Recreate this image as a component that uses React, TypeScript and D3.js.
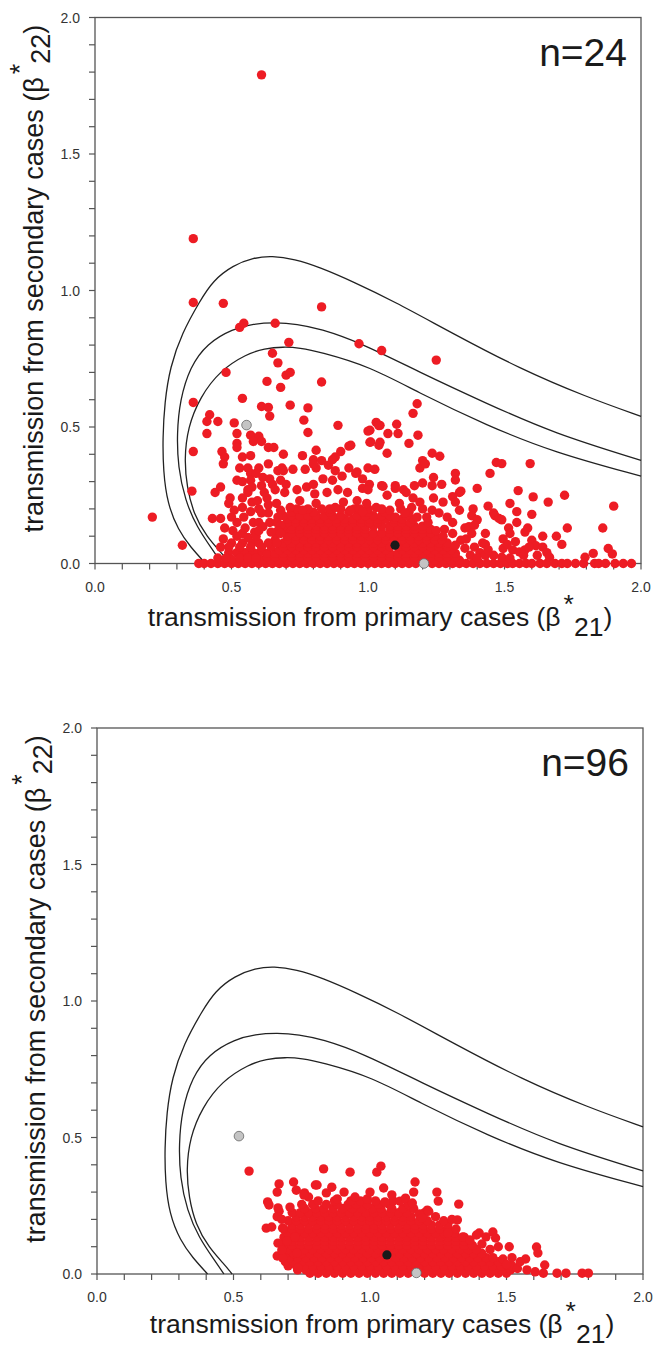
import * as d3 from 'd3';

// axis ticks (major labelled, minor every 0.1)
const majorTicks = [0, 0.5, 1.0, 1.5, 2.0];

// threshold contours (beta21, beta22)
const curveOuter: [number, number][] = [
  [0.405, 0], [0.35, 0.06], [0.305, 0.122], [0.265, 0.22], [0.25, 0.34], [0.248, 0.46],
  [0.255, 0.59], [0.275, 0.72], [0.318, 0.843], [0.385, 0.963], [0.432, 1.036], [0.505, 1.092],
  [0.58, 1.12], [0.648, 1.127], [0.73, 1.115], [0.824, 1.085], [0.95, 1.03], [1.09, 0.963],
  [1.31, 0.843], [1.557, 0.713], [1.8, 0.61], [2.0, 0.539],
];
const curveMiddle: [number, number][] = [
  [0.465, 0], [0.432, 0.048], [0.373, 0.133], [0.33, 0.232], [0.304, 0.353], [0.3, 0.476],
  [0.311, 0.598], [0.348, 0.72], [0.41, 0.806], [0.505, 0.86], [0.58, 0.878], [0.66, 0.883],
  [0.74, 0.877], [0.824, 0.86], [0.97, 0.81], [1.19, 0.7], [1.435, 0.586], [1.68, 0.477], [2.0, 0.378],
];
const curveInner: [number, number][] = [
  [0.495, 0], [0.465, 0.037], [0.41, 0.096], [0.36, 0.184], [0.337, 0.28], [0.327, 0.38],
  [0.34, 0.5], [0.385, 0.61], [0.458, 0.707], [0.556, 0.768], [0.62, 0.787], [0.69, 0.794],
  [0.75, 0.79], [0.824, 0.775], [1.007, 0.722], [1.19, 0.623], [1.435, 0.506], [1.68, 0.407], [2.0, 0.32],
];

// n=24 : scattered estimates
const topRed: [number, number][] = [
  [0.61, 1.79], [0.36, 1.19], [0.36, 0.956], [0.47, 0.953], [0.83, 0.94], [0.53, 0.865], [0.545, 0.88],
  [0.66, 0.88], [0.71, 0.81], [0.967, 0.805], [1.05, 0.78], [1.25, 0.745], [0.65, 0.77], [0.67, 0.735],
  [0.48, 0.7], [0.7, 0.69], [0.715, 0.7], [0.63, 0.667], [0.68, 0.645], [0.83, 0.665], [0.54, 0.605],
  [0.36, 0.59], [0.61, 0.575], [0.635, 0.572], [0.715, 0.58], [0.78, 0.57], [0.64, 0.54], [0.42, 0.545],
  [0.41, 0.52], [0.45, 0.52], [0.51, 0.515], [0.41, 0.476], [0.52, 0.476], [0.765, 0.525], [0.78, 0.48],
  [0.89, 0.506], [1.18, 0.585], [1.165, 0.55], [1.007, 0.488], [1.03, 0.517], [1.044, 0.506], [1.073, 0.476],
  [1.105, 0.51], [1.11, 0.476], [1.007, 0.444], [1.044, 0.444], [0.937, 0.433], [1.07, 0.404], [1.183, 0.47],
  [1.15, 0.44], [1.47, 0.37], [1.49, 0.366], [1.594, 0.366], [1.447, 0.33], [1.72, 0.25], [1.9, 0.21],
  [1.86, 0.13], [1.73, 0.13], [1.55, 0.267], [1.605, 0.244], [1.66, 0.225], [1.235, 0.404], [1.263, 0.393],
  [1.2, 0.377], [1.19, 0.35], [1.21, 0.365], [1.32, 0.33], [1.32, 0.306], [1.335, 0.26], [1.24, 0.315],
  [1.27, 0.29], [1.235, 0.285], [1.1, 0.285], [1.055, 0.283], [1.13, 0.27], [1.17, 0.285], [1.2, 0.295],
  [1.34, 0.265], [1.31, 0.245], [1.32, 0.225], [1.24, 0.24], [1.275, 0.225], [1.235, 0.195],
  [0.36, 0.41], [0.465, 0.41], [0.475, 0.39], [0.47, 0.365], [0.355, 0.265], [0.44, 0.26], [0.46, 0.28],
  [0.21, 0.17], [0.32, 0.067], [0.43, 0.165], [0.46, 0.165], [0.45, 0.02], [0.46, 0.06],
  [0.57, 0.47], [0.6, 0.466], [0.58, 0.447], [0.61, 0.447], [0.52, 0.44], [0.52, 0.425], [0.635, 0.425],
  [0.655, 0.425], [0.69, 0.4], [0.54, 0.39], [0.57, 0.395], [0.53, 0.35], [0.56, 0.35], [0.57, 0.33],
  [0.6, 0.35], [0.635, 0.365], [0.67, 0.34], [0.685, 0.35], [0.52, 0.305], [0.54, 0.3], [0.57, 0.305],
  [0.615, 0.315], [0.61, 0.285], [0.65, 0.29], [0.68, 0.305], [0.575, 0.28], [0.56, 0.27], [0.495, 0.24],
  [0.49, 0.22], [0.54, 0.24], [0.56, 0.26], [0.575, 0.225], [0.595, 0.23], [0.54, 0.205], [0.51, 0.195],
  [0.63, 0.24], [0.635, 0.215], [0.665, 0.22], [0.68, 0.195], [0.635, 0.185], [0.67, 0.17], [0.61, 0.185],
  [0.545, 0.17], [0.475, 0.13], [0.505, 0.12], [0.54, 0.11], [0.58, 0.15], [0.6, 0.15], [0.615, 0.135],
  [0.585, 0.115], [0.64, 0.15], [0.665, 0.15], [0.68, 0.14], [0.67, 0.12], [0.645, 0.115], [0.68, 0.11],
  [0.5, 0.075], [0.54, 0.075], [0.575, 0.075], [0.6, 0.075], [0.61, 0.06], [0.635, 0.075], [0.665, 0.075],
  [0.49, 0.04], [0.52, 0.04], [0.55, 0.04], [0.58, 0.04],
  [0.47, 0.09], [0.52, 0.1], [0.56, 0.095], [0.59, 0.1], [0.5, 0.015], [0.53, 0.02], [0.56, 0.02],
  [0.59, 0.02], [0.48, 0.02], [0.55, 0.13], [0.52, 0.15], [0.6, 0.12], [0.57, 0.06], [0.53, 0.06],
  [0.49, 0.06], [0.5, 0.17], [0.6, 0.2], [0.57, 0.19], [0.62, 0.26], [0.66, 0.27], [0.64, 0.31], [0.59, 0.33],
  [0.76, 0.395], [0.81, 0.415], [0.9, 0.41], [0.88, 0.39], [0.87, 0.38], [0.8, 0.38], [0.81, 0.35],
  [0.77, 0.345], [0.725, 0.345], [0.69, 0.34], [0.8, 0.365], [0.83, 0.377], [1.04, 0.505], [1.0, 0.485],
  [1.01, 0.445], [1.04, 0.433], [0.93, 0.43], [0.93, 0.35], [1.0, 0.35], [1.025, 0.345], [0.955, 0.33],
  [0.98, 0.31], [0.855, 0.36], [0.88, 0.34], [0.835, 0.31], [0.87, 0.305], [0.905, 0.32], [0.96, 0.335],
  [1.005, 0.29], [0.98, 0.275], [1.0, 0.27], [1.05, 0.285], [1.07, 0.25], [1.1, 0.275], [1.14, 0.26],
  [1.165, 0.24], [1.19, 0.225], [1.16, 0.205], [1.2, 0.2], [1.18, 0.17], [1.215, 0.17], [1.26, 0.185],
  [1.29, 0.17], [1.31, 0.15], [1.335, 0.195], [1.355, 0.13], [1.25, 0.12], [1.275, 0.1], [1.31, 0.11],
  [1.34, 0.085], [1.32, 0.067], [0.7, 0.29], [0.695, 0.26], [0.74, 0.27], [0.775, 0.28], [0.8, 0.29],
  [0.805, 0.255], [0.75, 0.23], [0.715, 0.205], [0.76, 0.195], [0.81, 0.22], [0.85, 0.26], [0.89, 0.27],
  [0.925, 0.26], [0.91, 0.225], [0.96, 0.23], [0.995, 0.22], [0.88, 0.205], [0.935, 0.195], [0.98, 0.19],
  [1.03, 0.205], [1.08, 0.195], [1.115, 0.22], [1.135, 0.185], [1.1, 0.17],
  [1.4, 0.275], [1.52, 0.22], [1.44, 0.21], [1.46, 0.185], [1.465, 0.175], [1.385, 0.2], [1.38, 0.175],
  [1.4, 0.16], [1.48, 0.165], [1.49, 0.16], [1.545, 0.19], [1.545, 0.15], [1.6, 0.18], [1.37, 0.135],
  [1.39, 0.14], [1.43, 0.11], [1.515, 0.13], [1.52, 0.11], [1.585, 0.13], [1.575, 0.115], [1.64, 0.1],
  [1.69, 0.1], [1.71, 0.07], [1.6, 0.085], [1.615, 0.065], [1.42, 0.075], [1.43, 0.07], [1.495, 0.09],
  [1.495, 0.055], [1.88, 0.055], [1.895, 0.035], [1.825, 0.037], [1.795, 0.023], [1.53, 0.05],
  [1.555, 0.042], [1.575, 0.05], [1.64, 0.06], [1.655, 0.04], [1.665, 0.023], [1.355, 0.056],
  [1.375, 0.03], [1.46, 0.03], [1.49, 0.023], [1.36, 0.09], [1.38, 0.11], [1.39, 0.06], [1.41, 0.04],
  [1.4, 0.02], [1.43, 0.03], [1.44, 0.05], [1.51, 0.07], [1.54, 0.08], [1.57, 0.03], [1.59, 0.06],
  [1.62, 0.03], [1.52, 0.02],
];

// n=24 : packed part of the cloud, one row per beta22 level
const topCoreRows: [number, number[]][] = [
  [0, [0.38, 0.4, 0.425, 0.45, 0.475, 0.5, 0.525, 0.55, 0.575, 0.6, 0.625, 0.65, 0.675, 0.7, 0.725, 0.75,
    0.775, 0.8, 0.825, 0.85, 0.875, 0.9, 0.925, 0.95, 0.975, 1.0, 1.025, 1.05, 1.075, 1.1, 1.125, 1.15,
    1.175, 1.235, 1.26, 1.285, 1.31, 1.335, 1.36, 1.385, 1.41, 1.435, 1.46, 1.485, 1.51, 1.53, 1.555,
    1.58, 1.6, 1.63, 1.655, 1.685, 1.71, 1.73, 1.76, 1.79, 1.83, 1.845, 1.87, 1.905, 1.935, 1.965]],
  [0.012, [0.615, 0.645, 0.675, 0.705, 0.735, 0.765, 0.795, 0.825, 0.855, 0.885, 0.915, 0.945, 0.975,
    1.005, 1.035, 1.065, 1.095, 1.125, 1.155, 1.185, 1.215, 1.245, 1.275, 1.305, 1.335]],
  [0.025, [0.63, 0.66, 0.69, 0.72, 0.75, 0.78, 0.81, 0.84, 0.87, 0.9, 0.93, 0.96, 0.99, 1.02, 1.05, 1.08,
    1.11, 1.14, 1.17, 1.2, 1.23, 1.26, 1.29, 1.32]],
  [0.037, [0.6, 0.63, 0.66, 0.69, 0.72, 0.75, 0.78, 0.81, 0.84, 0.87, 0.9, 0.93, 0.96, 0.99, 1.02, 1.05,
    1.08, 1.11, 1.14, 1.17, 1.2, 1.23, 1.26, 1.29, 1.32]],
  [0.05, [0.675, 0.705, 0.735, 0.765, 0.795, 0.825, 0.855, 0.885, 0.915, 0.945, 0.975, 1.005, 1.035,
    1.065, 1.125, 1.155, 1.185, 1.215, 1.245, 1.275, 1.305]],
  [0.062, [0.645, 0.69, 0.72, 0.75, 0.78, 0.81, 0.84, 0.87, 0.9, 0.93, 0.96, 0.99, 1.02, 1.05, 1.08,
    1.11, 1.14, 1.17, 1.2, 1.23, 1.26, 1.29]],
  [0.075, [0.69, 0.72, 0.75, 0.78, 0.81, 0.84, 0.87, 0.9, 0.93, 0.96, 0.99, 1.02, 1.05, 1.14, 1.17,
    1.2, 1.23, 1.26, 1.29]],
  [0.087, [0.66, 0.705, 0.735, 0.765, 0.795, 0.825, 0.855, 0.885, 0.915, 0.945, 0.975, 1.005, 1.035,
    1.065, 1.095, 1.125, 1.155, 1.185, 1.215, 1.245, 1.27]],
  [0.1, [0.705, 0.735, 0.765, 0.795, 0.825, 0.855, 0.885, 0.915, 0.945, 0.975, 1.005, 1.035, 1.065,
    1.095, 1.125, 1.155, 1.185, 1.215, 1.245]],
  [0.112, [0.66, 0.72, 0.75, 0.78, 0.81, 0.84, 0.87, 0.9, 0.93, 0.96, 0.99, 1.02, 1.05, 1.08, 1.11,
    1.14, 1.17, 1.2, 1.23]],
  [0.125, [0.69, 0.72, 0.75, 0.78, 0.81, 0.84, 0.87, 0.9, 0.93, 0.96, 0.99, 1.08, 1.11, 1.14, 1.17,
    1.2, 1.23, 1.28]],
  [0.137, [0.69, 0.72, 0.75, 0.78, 0.81, 0.84, 0.87, 0.9, 0.93, 0.96, 0.99, 1.02, 1.05, 1.08, 1.11,
    1.14, 1.17, 1.2]],
  [0.15, [0.705, 0.735, 0.765, 0.795, 0.825, 0.855, 0.885, 0.915, 0.945, 0.975, 1.005, 1.035, 1.095,
    1.125, 1.155, 1.22]],
  [0.162, [0.705, 0.735, 0.765, 0.795, 0.825, 0.855, 0.885, 0.915, 0.945, 0.975, 1.005, 1.035, 1.065,
    1.095, 1.125, 1.165]],
  [0.175, [0.69, 0.72, 0.75, 0.78, 0.81, 0.84, 0.87, 0.9, 0.96, 0.99, 1.02, 1.05, 1.08, 1.14]],
  [0.188, [0.72, 0.8, 0.86, 0.93, 1.0, 1.06, 1.15]],
  [0.2, [0.74, 0.78, 0.83, 0.86, 0.9, 0.95, 0.97, 1.0, 1.05, 1.12]],
];
const topBlack: [number, number][] = [[1.099, 0.067]];
const topGrey: [number, number][] = [[0.555, 0.507], [1.205, 0]];

// n=96 : scattered estimates
const bottomRed: [number, number][] = [
  [0.557, 0.377], [0.83, 0.385], [0.927, 0.373], [1.025, 0.373], [1.04, 0.395], [1.165, 0.337],
  [0.667, 0.33], [0.72, 0.337], [0.66, 0.3], [0.73, 0.307], [0.8, 0.326], [0.86, 0.318], [0.84, 0.297],
  [1.05, 0.315], [1.245, 0.3], [1.25, 0.267], [1.325, 0.256], [0.625, 0.264], [0.63, 0.253],
  [0.76, 0.297], [0.775, 0.282], [0.905, 0.3], [0.945, 0.282], [0.99, 0.275], [1.11, 0.267],
  [1.13, 0.278], [1.155, 0.26], [1.055, 0.264], [0.667, 0.23], [0.66, 0.21], [0.62, 0.168],
  [0.64, 0.172], [1.21, 0.234], [1.215, 0.23], [1.18, 0.22], [1.19, 0.205], [1.3, 0.2], [1.32, 0.198],
  [1.285, 0.15], [1.34, 0.136], [1.366, 0.125], [1.39, 0.143], [0.663, 0.113], [0.66, 0.066],
  [0.68, 0.059], [0.736, 0.022], [0.663, 0.242], [0.707, 0.245], [0.677, 0.2], [0.68, 0.168],
  [0.696, 0.121], [0.677, 0.088], [0.725, 0.136], [0.733, 0.077], [0.806, 0.326], [0.758, 0.289],
  [1.4, 0.15], [1.425, 0.136], [1.45, 0.154], [1.46, 0.132], [1.51, 0.1], [1.487, 0.055], [1.61, 0.099],
  [1.615, 0.077], [1.57, 0.055], [1.64, 0.033], [1.54, 0.02], [1.575, 0.015], [1.605, 0.008],
  [1.47, 0.1], [1.44, 0.09], [1.52, 0.06], [1.5, 0.035], [1.55, 0.045], [1.45, 0.06], [1.41, 0.11],
  [0.88, 0.275], [1.0, 0.3], [1.16, 0.3], [1.08, 0.29],
];

// n=96 : packed core of the cloud
const bottomCoreRows: [number, number[]][] = [
  [0.003, [0.78, 0.81, 0.84, 0.87, 0.9, 0.93, 0.96, 0.99, 1.02, 1.05, 1.08, 1.11, 1.14, 1.2, 1.23, 1.26,
    1.29, 1.32, 1.35, 1.38, 1.41, 1.44, 1.47, 1.5, 1.635, 1.685, 1.718, 1.777, 1.8]],
  [0.015, [0.735, 0.765, 0.795, 0.825, 0.855, 0.885, 0.915, 0.945, 0.975, 1.005, 1.035, 1.065, 1.095,
    1.125, 1.155, 1.185, 1.215, 1.245, 1.275, 1.305, 1.335, 1.365, 1.395, 1.425, 1.455, 1.485, 1.515]],
  [0.03, [0.7, 0.73, 0.76, 0.79, 0.82, 0.85, 0.88, 0.91, 0.94, 0.97, 1.0, 1.03, 1.06, 1.09, 1.12, 1.15,
    1.18, 1.21, 1.24, 1.27, 1.3, 1.33, 1.36, 1.39, 1.42, 1.45, 1.48, 1.52]],
  [0.045, [0.69, 0.72, 0.75, 0.78, 0.81, 0.84, 0.87, 0.9, 0.93, 0.96, 0.99, 1.02, 1.05, 1.08, 1.11,
    1.14, 1.17, 1.2, 1.23, 1.26, 1.29, 1.32, 1.35, 1.38, 1.41, 1.44, 1.47]],
  [0.06, [0.705, 0.735, 0.765, 0.795, 0.825, 0.855, 0.885, 0.915, 0.945, 0.975, 1.005, 1.035, 1.065,
    1.095, 1.125, 1.155, 1.185, 1.215, 1.245, 1.275, 1.305, 1.335, 1.365, 1.395, 1.425]],
  [0.075, [0.69, 0.72, 0.75, 0.78, 0.81, 0.84, 0.87, 0.9, 0.93, 0.96, 0.99, 1.02, 1.05, 1.08, 1.11,
    1.14, 1.17, 1.2, 1.23, 1.26, 1.29, 1.32, 1.35, 1.38, 1.41]],
  [0.09, [0.7, 0.73, 0.76, 0.79, 0.82, 0.85, 0.88, 0.91, 0.94, 0.97, 1.0, 1.03, 1.06, 1.09, 1.12, 1.15,
    1.18, 1.21, 1.24, 1.27, 1.3, 1.33, 1.36, 1.39]],
  [0.105, [0.685, 0.715, 0.745, 0.775, 0.805, 0.835, 0.865, 0.895, 0.925, 0.955, 0.985, 1.015, 1.045,
    1.075, 1.105, 1.135, 1.165, 1.195, 1.225, 1.255, 1.285, 1.315, 1.345, 1.375]],
  [0.12, [0.715, 0.745, 0.775, 0.805, 0.835, 0.865, 0.895, 0.925, 0.955, 0.985, 1.015, 1.045, 1.075,
    1.105, 1.135, 1.165, 1.195, 1.225, 1.255, 1.285, 1.315, 1.345]],
  [0.135, [0.685, 0.715, 0.745, 0.775, 0.805, 0.835, 0.865, 0.895, 0.925, 0.955, 0.985, 1.015, 1.045,
    1.075, 1.105, 1.135, 1.165, 1.195, 1.225, 1.255, 1.285, 1.315, 1.345]],
  [0.15, [0.7, 0.73, 0.76, 0.79, 0.82, 0.85, 0.88, 0.91, 0.94, 0.97, 1.0, 1.03, 1.06, 1.09, 1.12, 1.15,
    1.18, 1.21, 1.24, 1.27, 1.31]],
  [0.165, [0.685, 0.715, 0.745, 0.775, 0.805, 0.835, 0.865, 0.895, 0.925, 0.955, 0.985, 1.015, 1.045,
    1.075, 1.105, 1.135, 1.165, 1.195, 1.225, 1.255, 1.285, 1.315]],
  [0.18, [0.715, 0.745, 0.775, 0.805, 0.835, 0.865, 0.895, 0.925, 0.955, 0.985, 1.015, 1.045, 1.075,
    1.105, 1.135, 1.165, 1.195, 1.225, 1.255, 1.285]],
  [0.195, [0.7, 0.73, 0.76, 0.79, 0.82, 0.85, 0.88, 0.91, 0.94, 0.97, 1.0, 1.03, 1.06, 1.09, 1.12, 1.15,
    1.18, 1.21, 1.27]],
  [0.21, [0.73, 0.76, 0.79, 0.82, 0.85, 0.88, 0.91, 0.94, 0.97, 1.0, 1.03, 1.06, 1.09, 1.12, 1.15,
    1.24]],
  [0.225, [0.715, 0.745, 0.775, 0.805, 0.835, 0.865, 0.895, 0.925, 0.955, 0.985, 1.015, 1.045, 1.075,
    1.105, 1.135, 1.2]],
  [0.24, [0.76, 0.8, 0.83, 0.865, 0.9, 0.935, 0.97, 1.01, 1.04, 1.08, 1.12, 1.16]],
  [0.255, [0.75, 0.79, 0.84, 0.88, 0.92, 0.95, 0.99, 1.03, 1.07, 1.14]],
  [0.268, [0.81, 0.87, 0.93, 0.965, 1.02, 1.085]],
];
const bottomBlack: [number, number][] = [[1.062, 0.07]];
const bottomGrey: [number, number][] = [[0.52, 0.505], [1.17, 0.004]];

const SIZE = 546;
const FONT = "'Liberation Sans', Arial, Helvetica, sans-serif";

type Pt = [number, number];

function expand(rows: [number, number[]][]): Pt[] {
  return rows.flatMap(([yv, xs]) => xs.map((xv) => [xv, yv] as Pt));
}

function Panel({ left, top, label, red, core, black, grey, titleY }: {
  left: number; top: number; label: string; red: Pt[]; core: [number, number[]][];
  black: Pt[]; grey: Pt[]; titleY: number;
}) {
  const x = d3.scaleLinear().domain([0, 2]).range([0, SIZE]);
  const y = d3.scaleLinear().domain([0, 2]).range([SIZE, 0]);
  const line = d3.line<Pt>().x((d) => x(d[0])).y((d) => y(d[1])).curve(d3.curveBasis);
  const minor = x.ticks(20);
  const dots = [...expand(core), ...red];
  const axisCol = '#555';
  return (
    <g transform={`translate(${left},${top})`}>
      <rect x={0} y={0} width={SIZE} height={SIZE} fill="none" stroke={axisCol} strokeWidth={1.3} />
      {minor.map((t) => (
        <g key={`t${t}`}>
          <line x1={-6} x2={0} y1={y(t)} y2={y(t)} stroke={axisCol} strokeWidth={1.2} />
          <line x1={x(t)} x2={x(t)} y1={SIZE} y2={SIZE + 6} stroke={axisCol} strokeWidth={1.2} />
        </g>
      ))}
      {majorTicks.map((t) => (
        <g key={`l${t}`} fontFamily={FONT} fontSize={14} fill="#333">
          <text x={-15} y={y(t)} dy="0.36em" textAnchor="end">{t.toFixed(1)}</text>
          <text x={x(t)} y={SIZE + 28} textAnchor="middle">{t.toFixed(1)}</text>
        </g>
      ))}
      {[curveOuter, curveMiddle, curveInner].map((c, i) => (
        <path key={`c${i}`} d={line(c) || ''} fill="none" stroke="#222" strokeWidth={1.3} />
      ))}
      {dots.map((d, i) => (
        <circle key={`r${i}`} cx={x(d[0])} cy={y(d[1])} r={4.7} fill="#ed1c24" />
      ))}
      {black.map((d, i) => (
        <circle key={`b${i}`} cx={x(d[0])} cy={y(d[1])} r={4.6} fill="#1a1a1a" />
      ))}
      {grey.map((d, i) => (
        <circle key={`g${i}`} cx={x(d[0])} cy={y(d[1])} r={4.8} fill="#c4c4c4" stroke="#666" strokeWidth={0.8} />
      ))}
      <text x={532} y={48} textAnchor="end" fontFamily={FONT} fontSize={39} fill="#1a1a1a">{label}</text>
      <text x={285} y={titleY} textAnchor="middle" fontFamily={FONT} fontSize={26.5} fill="#1a1a1a">
        transmission from primary cases (β
        <tspan dx={3} dy={-13}>*</tspan>
        <tspan dy={23}>21</tspan>
        <tspan dy={-10}>)</tspan>
      </text>
      <text transform={`translate(-52,${SIZE / 2 - 12}) rotate(-90)`} textAnchor="middle"
        fontFamily={FONT} fontSize={27} fill="#1a1a1a">
        transmission from secondary cases (β
        <tspan dx={3} dy={-14}>*</tspan>
        <tspan dy={21}>22</tspan>
        <tspan dy={-7}>)</tspan>
      </text>
    </g>
  );
}

export default function App() {
  return (
    <svg width={655} height={1351} style={{ position: 'absolute', left: 0, top: 0, background: '#fff' }}>
      <rect width={655} height={1351} fill="#fff" />
      <Panel left={95} top={17.5} label="n=24" red={topRed} core={topCoreRows}
        black={topBlack} grey={topGrey} titleY={608} />
      <Panel left={97} top={728} label="n=96" red={bottomRed} core={bottomCoreRows}
        black={bottomBlack} grey={bottomGrey} titleY={605} />
    </svg>
  );
}
